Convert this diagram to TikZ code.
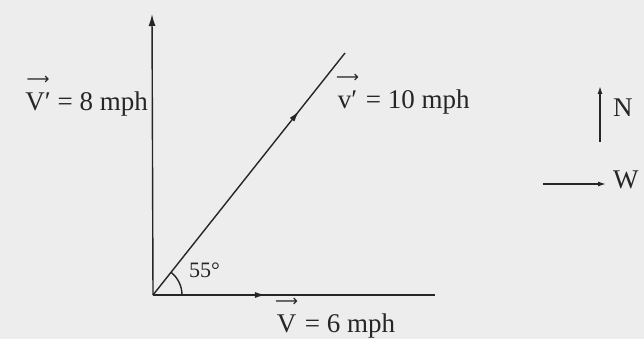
\documentclass[tikz,border=0pt]{standalone}
\usepackage{amsmath}
\usepackage{fontspec}
\setmainfont{Liberation Serif}
\newfontfamily\arrowfont{DejaVu Sans}
\newcommand{\vecover}[1]{$\overset{\raisebox{3.5pt}{\fontsize{16}{16}\arrowfont ⟶}}{\text{#1}}$}
\usetikzlibrary{arrows.meta,decorations.markings}
\begin{document}
\begin{tikzpicture}[
            x=1pt,
            y=-1pt,
            vec/.style={line width=1.4pt, black!85},
            midarrow/.style={postaction={decorate}, decoration={markings,
                mark=at position #1 with {\arrow{Latex[length=11pt,width=6pt]}}}},
            lbl/.style={inner sep=1pt, font=\fontsize{27}{30}\selectfont, text=black!85}
        ]
        \fill[black!7] (0,0) rectangle (644,339);
        \useasboundingbox (0,0) rectangle (644,339);
        \coordinate (O) at (153,295);
        \coordinate (T) at (152,14);
        \coordinate (D) at (345,53);
        \coordinate (E) at (435,295);
        \coordinate (N1) at (600,142);
        \coordinate (N2) at (600,86);
        \coordinate (W1) at (543,184);
        \coordinate (W2) at (606,184);

        \draw[vec, -{Latex[length=12pt,width=7pt]}] (O) -- (T);
        \draw[vec, midarrow=0.76] (O) -- (D);
        \draw[vec, midarrow=0.4] (O) -- (E);
        \draw[vec] (O) ++(29,0) arc[start angle=0, end angle=-51.6, radius=29];

        \node[lbl, anchor=east] (vp) at (149,95) {\vecover{V′} = 8 mph};
        \node[lbl, anchor=west] (vd) at (335,93) {\vecover{v′} = 10 mph};
        \node[lbl, anchor=west] (vh) at (274,317) {\vecover{V} = 6 mph};
        \node[lbl, anchor=west, font=\fontsize{22}{24}\selectfont] (ang) at (188,270) {55°};

        \draw[vec, -{Latex[length=8pt,width=5pt]}] (N1) -- (N2);
        \node[lbl, anchor=west] (n) at (612,108) {N};
        \draw[vec, -{Latex[length=8pt,width=5pt]}] (W1) -- (W2);
        \node[lbl, anchor=west] (w) at (612,180) {W};
    \end{tikzpicture}
\end{document}
